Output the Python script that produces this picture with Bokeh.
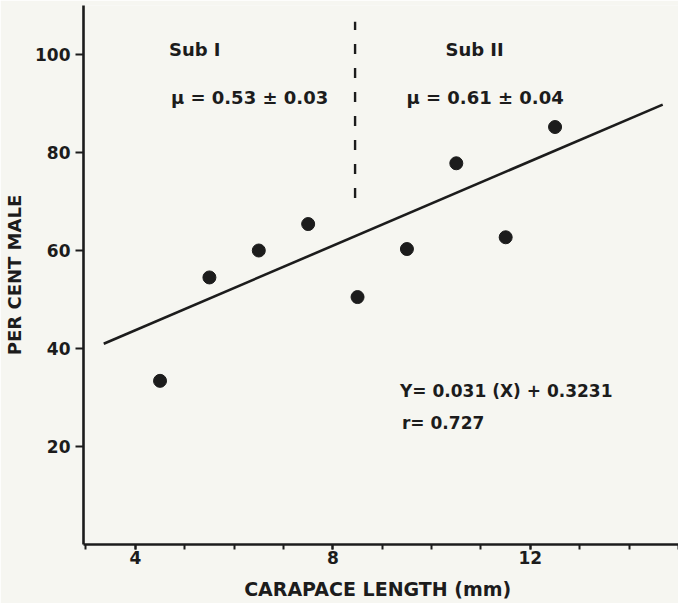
from bokeh.plotting import figure
from bokeh.models import FixedTicker, Range1d, Label
from bokeh.embed import file_html
from bokeh.resources import INLINE

# ---- data ----
carapace_mm = [4.5, 5.5, 6.5, 7.5, 8.5, 9.5, 10.5, 11.5, 12.5]
percent_male = [33.4, 54.5, 60.0, 65.4, 50.5, 60.3, 77.8, 62.7, 85.2]
fit_x = [3.36, 14.68]
fit_slope = 4.31
fit_intercept = 26.5
divider_x = 8.45
divider_y = [70.7, 106.7]
x_major = [4, 8, 12]
x_minor = [3, 4, 5, 6, 7, 8, 9, 10, 11, 12, 13, 14, 15]
y_major = [20, 40, 60, 80, 100]

BG = "#f6f6f1"
INK = "#1c1c1c"
FONT = "DejaVu Sans"

p = figure(width=678, height=603, output_backend="svg", toolbar_location=None,
           x_range=Range1d(2.95, 15.0), y_range=Range1d(0, 110),
           min_border_left=83, min_border_right=0, min_border_top=5,
           min_border_bottom=59)
p.background_fill_color = BG
p.border_fill_color = BG
p.outline_line_color = None
p.grid.visible = False

# regression line
fit_y = [fit_intercept + fit_slope * x for x in fit_x]
p.line(fit_x, fit_y, line_color=INK, line_width=2.6)

# divider
p.line([divider_x, divider_x], divider_y, line_color=INK, line_width=2.4,
       line_dash="10 14")

# points
p.scatter(carapace_mm, percent_male, size=13, fill_color=INK, line_color=INK)

# axes
for ax in (p.xaxis, p.yaxis):
    ax.axis_line_color = INK
    ax.axis_line_width = 2.6
    ax.major_tick_line_color = INK
    ax.major_tick_line_width = 2
    ax.minor_tick_line_color = INK
    ax.minor_tick_line_width = 2
    ax.major_tick_in = 0
    ax.minor_tick_in = 0
    ax.major_label_text_font = FONT
    ax.major_label_text_font_style = "bold"
    ax.major_label_text_color = INK
    ax.major_label_text_font_size = "17px"
    ax.axis_label_text_font = FONT
    ax.axis_label_text_font_style = "bold"
    ax.axis_label_text_color = INK

p.xaxis.ticker = FixedTicker(ticks=x_major, minor_ticks=x_minor)
p.xaxis.major_tick_out = 5
p.xaxis.minor_tick_out = 5
p.xaxis.major_label_standoff = 1
p.xaxis.axis_label = "CARAPACE  LENGTH (mm)"
p.xaxis.axis_label_text_font_size = "19px"
p.xaxis.axis_label_standoff = 11

p.yaxis.ticker = FixedTicker(ticks=y_major, minor_ticks=[])
p.yaxis.major_tick_out = 8
p.yaxis.minor_tick_out = 0
p.yaxis.major_label_standoff = 5
p.yaxis.axis_label = "PER CENT MALE"
p.yaxis.axis_label_text_font_size = "18px"
p.yaxis.axis_label_standoff = 7

def note(x, y, txt, size="18px"):
    p.add_layout(Label(x=x, y=y, text=txt, text_font=FONT, text_font_style="bold",
                       text_font_size=size, text_color=INK,
                       text_baseline="middle", text_align="left"))

note(4.68, 101.0, "Sub I")
note(10.28, 101.0, "Sub II")
note(4.72, 91.3, "μ = 0.53 ± 0.03")
note(9.49, 91.3, "μ = 0.61 ± 0.04")
note(9.36, 31.25, "Y= 0.031 (X) + 0.3231", "17px")
note(9.40, 24.8, "r= 0.727", "17px")

open("out.html", "w").write(file_html(p, INLINE))
